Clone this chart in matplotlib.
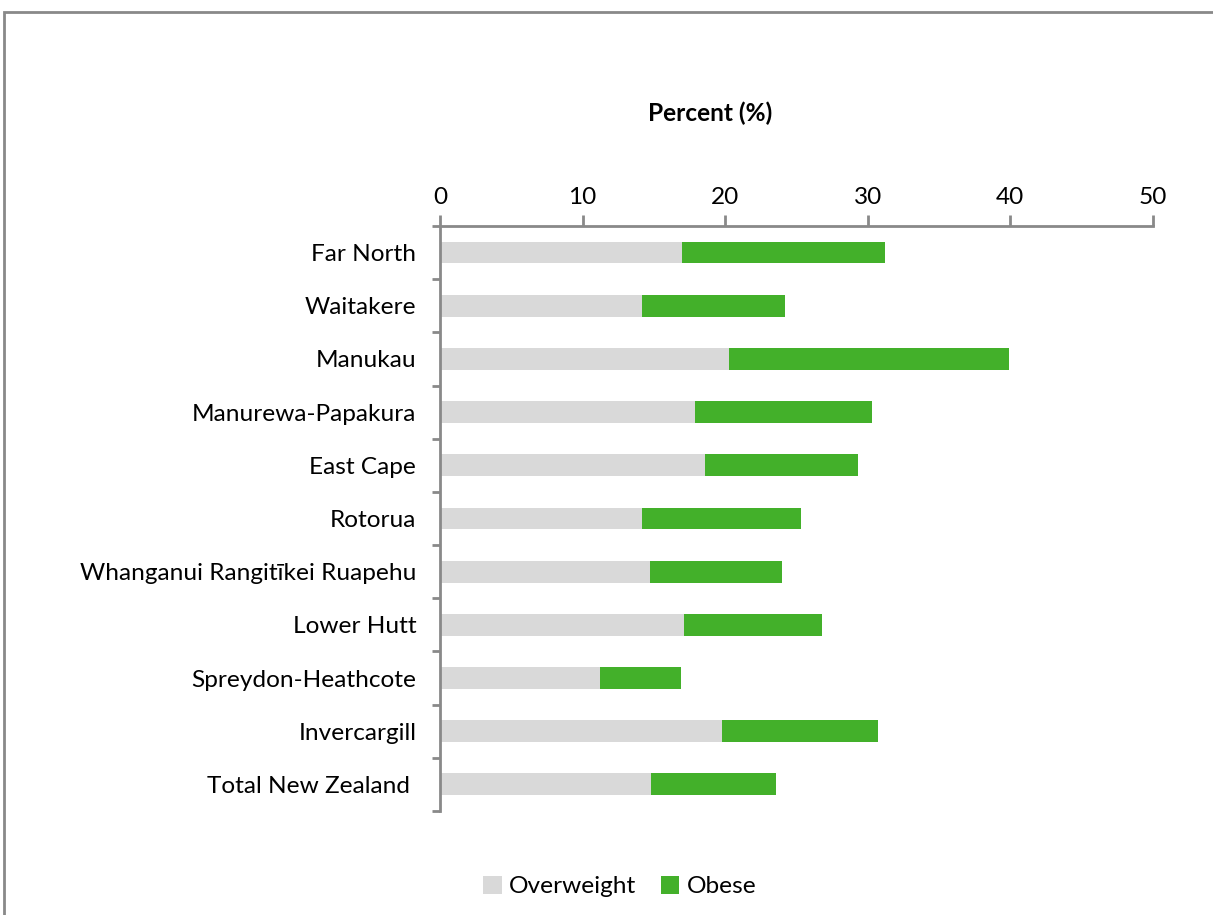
import numpy as np
import matplotlib as mpl
mpl.use("Agg")
import matplotlib.pyplot as plt
from matplotlib.patches import Rectangle

areas = ["Far North", "Waitakere", "Manukau", "Manurewa-Papakura", "East Cape",
         "Rotorua", "Whanganui Rangitīkei Ruapehu", "Lower Hutt",
         "Spreydon-Heathcote", "Invercargill", "Total New Zealand "]
overweight = [17.0, 14.2, 20.3, 17.9, 18.6, 14.2, 14.7, 17.1, 11.2, 19.8, 14.8]
obese = [14.2, 10.0, 19.6, 12.4, 10.7, 11.1, 9.3, 9.7, 5.7, 10.9, 8.8]

plt.rcParams["font.family"] = ["Lato", "DejaVu Sans"]
axis_grey = "#898989"
fs = 17.6

fig = plt.figure(figsize=(12.13, 9.15), dpi=100)
ax = fig.add_axes([0.3627, 0.1137, 0.5878, 0.6393])

y = np.arange(len(areas))
ax.barh(y, overweight, height=0.41, color="#d9d9d9", label="Overweight")
ax.barh(y, obese, left=overweight, height=0.41, color="#43b02a", label="Obese")

ax.set_xlim(0, 50)
ax.set_ylim(len(areas) - 0.5, -0.5)
ax.set_xticks(range(0, 51, 10))
ax.xaxis.tick_top()
ax.set_yticks(y)
ax.set_yticklabels(areas)
ax.set_yticks(np.arange(-0.5, len(areas), 1), minor=True)
ax.tick_params(axis="y", which="major", length=0, pad=17, labelsize=fs)
ax.tick_params(axis="y", which="minor", length=6, width=2, color=axis_grey)
ax.tick_params(axis="x", length=8, width=2, color=axis_grey, pad=5, labelsize=fs)

for side in ["right", "bottom"]:
    ax.spines[side].set_visible(False)
for side in ["left", "top"]:
    ax.spines[side].set_color(axis_grey)
    ax.spines[side].set_linewidth(2)

fig.text(0.5855, 0.876, "Percent (%)", ha="center", va="center",
         fontsize=fs, fontweight="bold")

fig.legend(loc="center", bbox_to_anchor=(0.511, 0.031), ncol=2, frameon=False,
           fontsize=fs, handlelength=0.75, handleheight=0.75, handletextpad=0.3,
           columnspacing=1.0)

fig.patches.append(Rectangle((4 / 1213, -0.05), 1.2, 1.0369, transform=fig.transFigure,
                             fill=False, edgecolor=axis_grey, linewidth=2))

fig.savefig("out.png", dpi=100)
